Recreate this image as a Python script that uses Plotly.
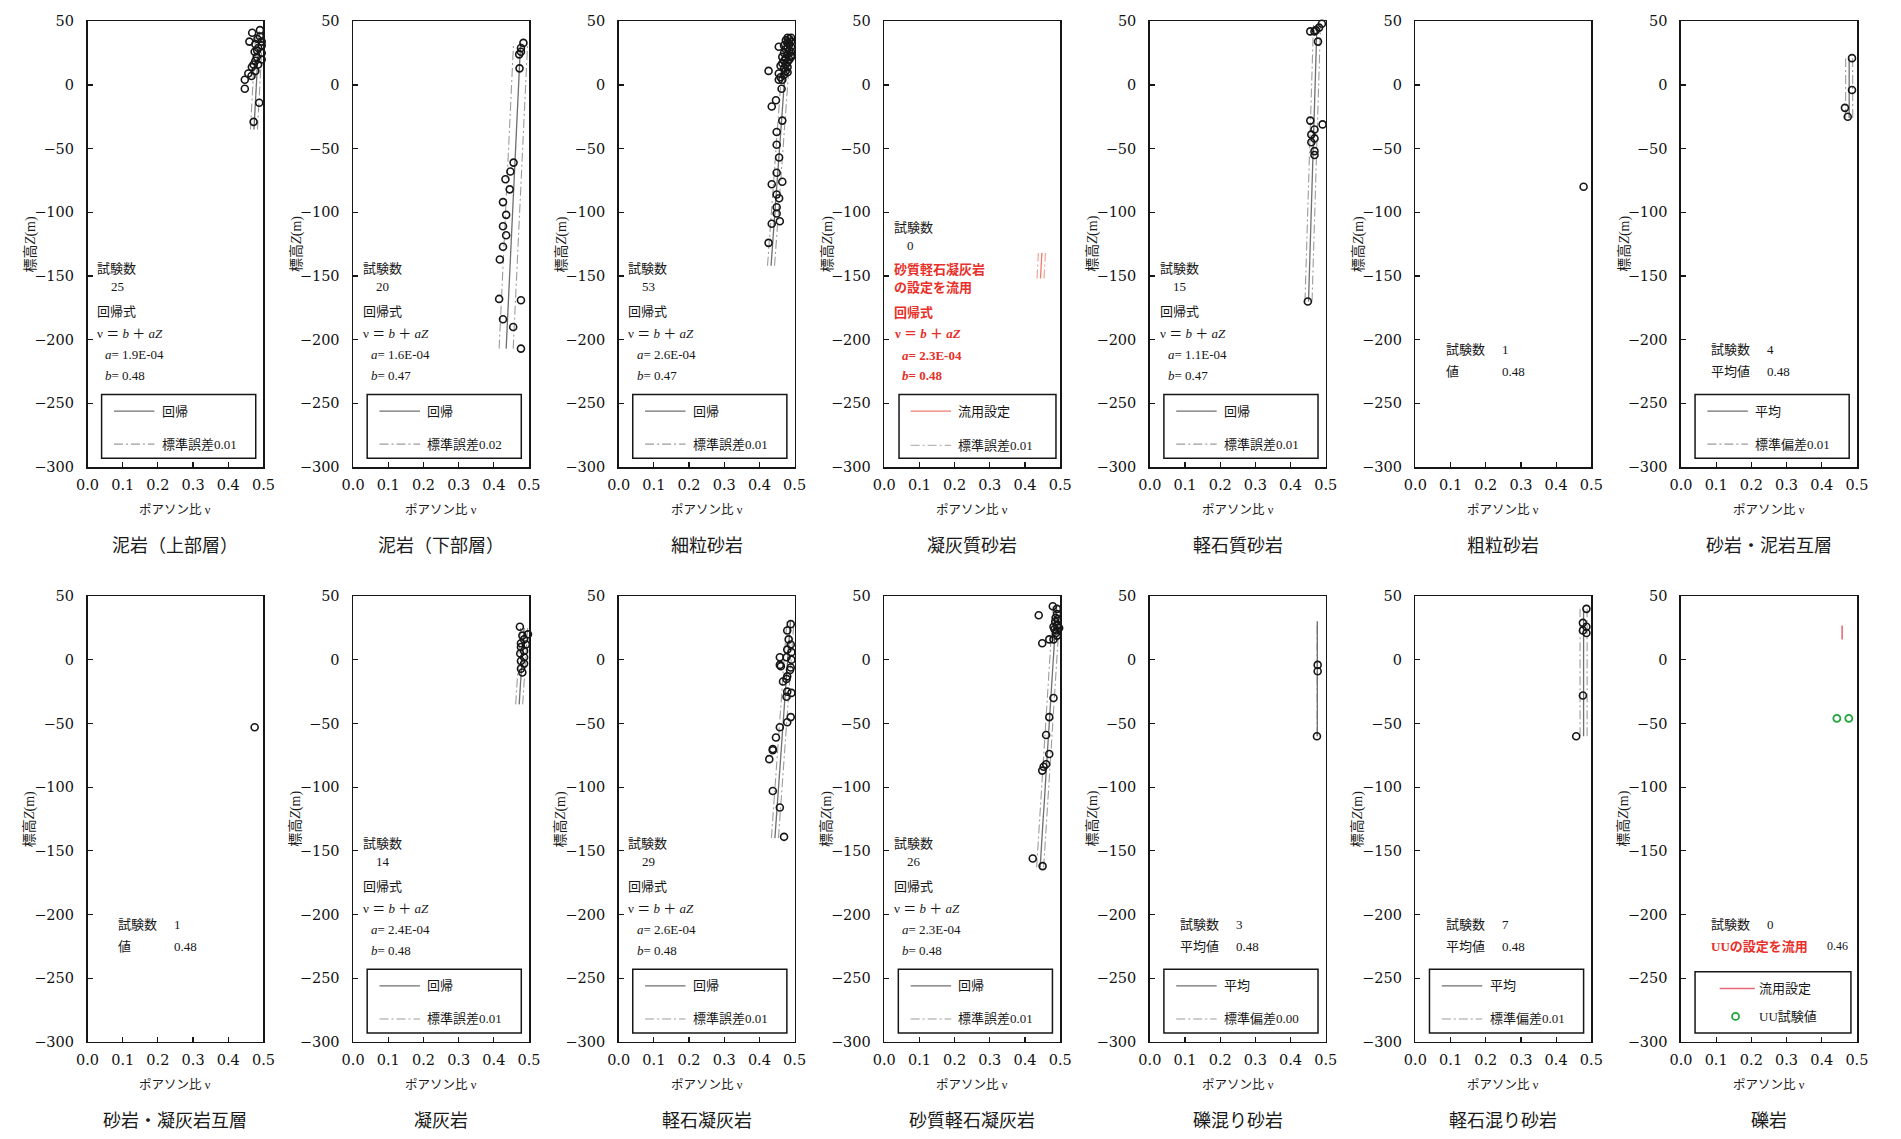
import plotly.graph_objects as go

# ---------------- data ----------------
PANEL_NAMES = ["泥岩（上部層）", "泥岩（下部層）", "細粒砂岩", "凝灰質砂岩", "軽石質砂岩", "粗粒砂岩", "砂岩・泥岩互層",
               "砂岩・凝灰岩互層", "凝灰岩", "軽石凝灰岩", "砂質軽石凝灰岩", "礫混り砂岩", "軽石混り砂岩", "礫岩"]
Z_TICKS = [50, 0, -50, -100, -150, -200, -250, -300]
Z_TICK_LABELS = ["50", "0", "−50", "−100", "−150", "−200", "−250", "−300"]
V_TICKS = [0.0, 0.1, 0.2, 0.3, 0.4, 0.5]
V_TICK_LABELS = ["0.0", "0.1", "0.2", "0.3", "0.4", "0.5"]

TEST_COUNTS = [25, 20, 53, 0, 15, 1, 4, 1, 14, 29, 26, 3, 7, 0]
A_VALUES = ["1.9E-04", "1.6E-04", "2.6E-04", "2.3E-04", "1.1E-04", None, None, None, "2.4E-04", "2.6E-04", "2.3E-04", None, None, None]
B_VALUES = ["0.48", "0.47", "0.47", "0.48", "0.47", None, None, None, "0.48", "0.48", "0.48", None, None, None]
MEAN_LABELS = [None, None, None, None, None, "0.48", "0.48", "0.48", None, None, None, "0.48", "0.48", "0.46"]
SE_LABELS = ["0.01", "0.02", "0.01", "0.01", "0.01", None, "0.01", None, "0.01", "0.01", "0.01", "0.00", "0.01", None]
SE_VALUES = [0.01, 0.02, 0.01, 0.01, 0.01, None, 0.01, None, 0.01, 0.01, 0.01, 0.0, 0.01, None]
KIND = ["reg", "reg", "reg", "borrow_reg", "reg", "single", "mean", "single", "reg", "reg", "reg", "mean", "mean", "borrow_uu"]

P1_V = [0.49, 0.468, 0.483, 0.495, 0.46, 0.477, 0.495, 0.485, 0.475, 0.495, 0.481, 0.495, 0.477, 0.472, 0.485,
        0.467, 0.477, 0.457, 0.466, 0.447, 0.447, 0.488, 0.472, 0.482, 0.49]
P1_Z = [43, 41, 36, 34, 34, 32, 31, 29, 26, 25, 22, 20, 19, 16, 16, 14, 11, 9, 7, 4, -3, -14, -29, 27, 38]
P2_V = [0.484, 0.477, 0.477, 0.472, 0.473, 0.456, 0.447, 0.433, 0.445, 0.426, 0.435, 0.426, 0.435, 0.426, 0.417,
        0.415, 0.477, 0.426, 0.455, 0.477]
P2_Z = [33, 29, 26, 24, 13, -61, -68, -74, -82, -92, -102, -111, -118, -127, -137, -168, -169, -184, -190, -207]
P3_V = [0.426, 0.455, 0.455, 0.455, 0.463, 0.447, 0.435, 0.465, 0.449, 0.449, 0.456, 0.449, 0.465, 0.435, 0.449,
        0.456, 0.449, 0.449, 0.458, 0.435, 0.426,
        0.48, 0.49, 0.485, 0.475, 0.49, 0.48, 0.485, 0.47, 0.49, 0.48, 0.475, 0.485, 0.49, 0.47, 0.48, 0.49,
        0.465, 0.475, 0.485, 0.47, 0.48, 0.465, 0.475, 0.46, 0.48, 0.47, 0.49, 0.475, 0.48, 0.46, 0.465, 0.47]
P3_Z = [11, 30, 9, 4, -3, -12, -17, -28, -37, -47, -57, -69, -76, -78, -86, -89, -96, -101, -107, -109, -124,
        37, 37, 36, 35, 34, 33, 32, 31, 30, 29, 28, 27, 26, 25, 24, 23, 22, 21, 20, 19, 18, 17, 16, 15, 14, 13,
        22, 11, 10, 6, 4, 8]
P4_V = []
P4_Z = []
P5_V = [0.489, 0.481, 0.472, 0.468, 0.456, 0.478, 0.456, 0.491, 0.468, 0.459, 0.468, 0.459, 0.468, 0.468, 0.449]
P5_Z = [48, 45, 43, 42, 42, 34, -28, -31, -35, -39, -42, -45, -52, -55, -170]
P6_V = [0.478]
P6_Z = [-80]
P7_V = [0.486, 0.486, 0.466, 0.474]
P7_Z = [21, -4, -18, -25]
P8_V = [0.475]
P8_Z = [-53]
P9_V = [0.474, 0.497, 0.481, 0.486, 0.477, 0.491, 0.477, 0.486, 0.475, 0.486, 0.477, 0.486, 0.477, 0.481]
P9_Z = [26, 20, 19, 16, 13, 12, 10, 7, 5, 2, -1, -3, -7, -10]
P10_V = [0.489, 0.479, 0.489, 0.479, 0.491, 0.458, 0.477, 0.491, 0.458, 0.461, 0.489, 0.479, 0.477, 0.467, 0.479,
         0.491, 0.477, 0.489, 0.479, 0.458, 0.447, 0.438, 0.438, 0.428, 0.438, 0.458, 0.47, 0.483, 0.487]
P10_Z = [28, 23, 12, 8, 6, 2, 2, 0, -4, -5, -6, -13, -15, -17, -25, -26, -29, -45, -49, -53, -61, -70, -71, -78,
         -103, -116, -139, 16, -8]
P11_V = [0.479, 0.439, 0.491, 0.491, 0.493, 0.486, 0.491, 0.481, 0.497, 0.484, 0.488, 0.491, 0.469, 0.481, 0.449,
         0.481, 0.469, 0.46, 0.469, 0.46, 0.453, 0.449, 0.422, 0.45, 0.487, 0.49]
P11_Z = [42, 35, 40, 36, 32, 30, 27, 26, 25, 24, 21, 19, 16, 16, 13, -30, -45, -59, -74, -82, -84, -87, -156, -162, 33, 23]
P12_V = [0.477, 0.477, 0.475]
P12_Z = [-4, -9, -60]
P13_V = [0.486, 0.476, 0.486, 0.476, 0.486, 0.476, 0.457]
P13_Z = [40, 29, 26, 23, 21, -28, -60]
P14_V = []
P14_Z = []
UU_V = [0.443, 0.477]
UU_Z = [-46, -46]

# fitted / mean lines (end points)
L1_V, L1_Z = [0.473, 0.488], [-35, 42]
L2_V, L2_Z = [0.435, 0.476], [-207, 33]
L3_V, L3_Z = [0.433, 0.480], [-142, 37]
L4_V, L4_Z = [0.444, 0.448], [-152, -132]
L5_V, L5_Z = [0.451, 0.475], [-170, 47]
L6_V, L6_Z = None, None
L7_V, L7_Z = [0.478, 0.478], [-26, 21]
L8_V, L8_Z = None, None
L9_V, L9_Z = [0.472, 0.486], [-35, 25]
L10_V, L10_Z = [0.444, 0.488], [-140, 30]
L11_V, L11_Z = [0.443, 0.490], [-163, 42]
L12_V, L12_Z = [0.476, 0.476], [-60, 30]
L13_V, L13_Z = [0.478, 0.478], [-60, 40]
L14_V, L14_Z = [0.458, 0.458], [16, 27]

PTS_V = [P1_V, P2_V, P3_V, P4_V, P5_V, P6_V, P7_V, P8_V, P9_V, P10_V, P11_V, P12_V, P13_V, P14_V]
PTS_Z = [P1_Z, P2_Z, P3_Z, P4_Z, P5_Z, P6_Z, P7_Z, P8_Z, P9_Z, P10_Z, P11_Z, P12_Z, P13_Z, P14_Z]
LN_V = [L1_V, L2_V, L3_V, L4_V, L5_V, L6_V, L7_V, L8_V, L9_V, L10_V, L11_V, L12_V, L13_V, L14_V]
LN_Z = [L1_Z, L2_Z, L3_Z, L4_Z, L5_Z, L6_Z, L7_Z, L8_Z, L9_Z, L10_Z, L11_Z, L12_Z, L13_Z, L14_Z]

# ---------------- layout constants ----------------
PAGE_W, PAGE_H = 1901, 1139
BODY = 8  # default page margin around the plot div
W, H = PAGE_W - 2 * BODY, PAGE_H - 2 * BODY
COL_X0, COL_STEP, PW = 76.4, 269.0, 178.2
ROW_T = [13.3, 596.5]
ROW_B = [465.6, 1048.7]


def fx(xp):
    return (xp - BODY) / W


def fy(yp):
    return 1 - (yp - BODY) / H


TICK_FONT = dict(family="DejaVu Serif", size=14.5, color="#111111")
TXT_FONT = "Liberation Serif, Noto Sans CJK JP"
CJK_FONT = "Noto Sans CJK JP"
BLACK = "#161616"
RED = "#e8302a"
LINE_SOLID = "#6f6f6f"
LINE_DASH = "#9c9c9c"
DASHDOT = "9px,3px,2px,3px"

fig = go.Figure()
annotations = []
shapes = []
axes = {}


def sfx(i):
    return "" if i == 0 else str(i + 1)


def txt(i, x, z, s, color=BLACK, size=13):
    annotations.append(dict(x=x, y=z, xref="x" + sfx(i), yref="y" + sfx(i), text=s, showarrow=False,
                            xanchor="left", yanchor="middle",
                            font=dict(family=TXT_FONT, size=size, color=color)))


def hline(i, x0, x1, z, color, dash=None, width=1.3):
    shapes.append(dict(type="line", xref="x" + sfx(i), yref="y" + sfx(i), x0=x0, x1=x1, y0=z, y1=z,
                       line=dict(color=color, width=width, dash=dash) if dash else dict(color=color, width=width)))


def legend_box(i, x0=0.04, x1=0.478, z0=-243, z1=-293):
    shapes.append(dict(type="rect", xref="x" + sfx(i), yref="y" + sfx(i), x0=x0, x1=x1, y0=z0, y1=z1,
                       line=dict(color=BLACK, width=1.5), fillcolor="rgba(0,0,0,0)"))


for i in range(14):
    r, c = divmod(i, 7)
    x0 = COL_X0 + c * COL_STEP
    x1 = x0 + PW
    s = sfx(i)
    axes["xaxis" + s] = dict(domain=[fx(x0), fx(x1)], anchor="y" + s, range=[0, 0.5],
                             tickvals=V_TICKS, ticktext=V_TICK_LABELS, ticks="inside", ticklen=5,
                             tickcolor=BLACK, tickwidth=1.2,
                             showline=True, mirror=True, linecolor=BLACK, linewidth=1.6,
                             showgrid=False, zeroline=False, tickfont=TICK_FONT, ticklabelstandoff=4,
                             fixedrange=True)
    axes["yaxis" + s] = dict(domain=[fy(ROW_B[r]), fy(ROW_T[r])], anchor="x" + s, range=[-300, 50],
                             tickvals=Z_TICKS, ticktext=Z_TICK_LABELS, ticks="inside", ticklen=5,
                             tickcolor=BLACK, tickwidth=1.2,
                             showline=True, mirror=True, linecolor=BLACK, linewidth=1.6,
                             showgrid=False, zeroline=False, tickfont=TICK_FONT, ticklabelstandoff=9,
                             fixedrange=True)
    # titles
    annotations.append(dict(x=fx((x0 + x1) / 2), y=fy(ROW_B[r] + 78), xref="paper", yref="paper",
                            text=PANEL_NAMES[i], showarrow=False, xanchor="center", yanchor="middle",
                            font=dict(family=CJK_FONT, size=18, color="#1a1a1a")))
    annotations.append(dict(x=fx((x0 + x1) / 2), y=fy(ROW_B[r] + 44), xref="paper", yref="paper",
                            text="ポアソン比 ν", showarrow=False, xanchor="center", yanchor="middle",
                            font=dict(family=TXT_FONT, size=12.5, color="#1a1a1a")))
    annotations.append(dict(x=fx(x0 - 58), y=fy((ROW_T[r] + ROW_B[r]) / 2), xref="paper", yref="paper",
                            text="標高<i>Z</i>(m)", showarrow=False, xanchor="center", yanchor="middle",
                            textangle=-90, font=dict(family=TXT_FONT, size=14, color="#1a1a1a")))

    kind = KIND[i]
    xa, ya = "x" + s, "y" + s

    # lines
    if LN_V[i] is not None:
        if kind == "borrow_uu":
            fig.add_trace(go.Scatter(x=LN_V[i], y=LN_Z[i], mode="lines", xaxis=xa, yaxis=ya,
                                     line=dict(color="#e66a7a", width=1.6), showlegend=False, hoverinfo="skip"))
        else:
            se = SE_VALUES[i]
            red = kind == "borrow_reg"
            solid_c = "#ee7c70" if red else LINE_SOLID
            dash_c = "#f09a90" if red else LINE_DASH
            for off in (-se, se):
                fig.add_trace(go.Scatter(x=[v + off for v in LN_V[i]], y=LN_Z[i], mode="lines", xaxis=xa, yaxis=ya,
                                         line=dict(color=dash_c, width=1.1, dash=DASHDOT),
                                         showlegend=False, hoverinfo="skip", cliponaxis=False))
            fig.add_trace(go.Scatter(x=LN_V[i], y=LN_Z[i], mode="lines", xaxis=xa, yaxis=ya,
                                     line=dict(color=solid_c, width=1.3), showlegend=False, hoverinfo="skip",
                                     cliponaxis=False))
    # points
    if PTS_V[i]:
        fig.add_trace(go.Scatter(x=PTS_V[i], y=PTS_Z[i], mode="markers", xaxis=xa, yaxis=ya,
                                 marker=dict(symbol="circle-open", size=7, color=BLACK, line=dict(width=1.6)),
                                 showlegend=False, cliponaxis=False))
    if kind == "borrow_uu":
        fig.add_trace(go.Scatter(x=UU_V, y=UU_Z, mode="markers", xaxis=xa, yaxis=ya,
                                 marker=dict(symbol="circle-open", size=7, color="#22a53a", line=dict(width=1.8)),
                                 showlegend=False, cliponaxis=False))

    # texts and legends
    if kind == "reg":
        txt(i, 0.022, -144, "試験数")
        txt(i, 0.06, -158, str(TEST_COUNTS[i]))
        txt(i, 0.022, -178, "回帰式")
        txt(i, 0.022, -195, "ν ＝ <i>b</i> ＋ <i>aZ</i>")
        txt(i, 0.045, -212, "<i>a</i>= " + A_VALUES[i])
        txt(i, 0.045, -228, "<i>b</i>= " + B_VALUES[i])
        legend_box(i)
        hline(i, 0.075, 0.19, -256, LINE_SOLID)
        txt(i, 0.205, -256, "回帰")
        hline(i, 0.075, 0.19, -282, LINE_DASH, DASHDOT, 1.1)
        txt(i, 0.205, -282, "標準誤差" + SE_LABELS[i])
    elif kind == "borrow_reg":
        txt(i, 0.022, -112, "試験数")
        txt(i, 0.06, -126, str(TEST_COUNTS[i]))
        txt(i, 0.022, -145, "<b>砂質軽石凝灰岩</b>", RED)
        txt(i, 0.022, -159, "<b>の設定を流用</b>", RED)
        txt(i, 0.022, -179, "<b>回帰式</b>", RED)
        txt(i, 0.022, -195, "<b>ν ＝ <i>b</i> ＋ <i>aZ</i></b>", RED)
        txt(i, 0.045, -212.5, "<b><i>a</i>= " + A_VALUES[i] + "</b>", RED)
        txt(i, 0.045, -228.5, "<b><i>b</i>= " + B_VALUES[i] + "</b>", RED)
        legend_box(i, 0.042, 0.488)
        hline(i, 0.075, 0.19, -256, "#ee7c70")
        txt(i, 0.205, -256, "流用設定")
        hline(i, 0.075, 0.19, -283, "#b8b8b8", DASHDOT, 1.1)
        txt(i, 0.205, -283, "標準誤差" + SE_LABELS[i])
    elif kind == "single":
        txt(i, 0.08, -208, "試験数")
        txt(i, 0.24, -208, str(TEST_COUNTS[i]))
        txt(i, 0.08, -225, "値")
        txt(i, 0.24, -225, MEAN_LABELS[i])
    elif kind == "mean":
        txt(i, 0.08, -208, "試験数")
        txt(i, 0.24, -208, str(TEST_COUNTS[i]))
        txt(i, 0.08, -225, "平均値")
        txt(i, 0.24, -225, MEAN_LABELS[i])
        legend_box(i)
        hline(i, 0.075, 0.19, -256, LINE_SOLID)
        txt(i, 0.205, -256, "平均")
        hline(i, 0.075, 0.19, -282, LINE_DASH, DASHDOT, 1.1)
        txt(i, 0.205, -282, "標準偏差" + SE_LABELS[i])
    elif kind == "borrow_uu":
        txt(i, 0.08, -208, "試験数")
        txt(i, 0.24, -208, str(TEST_COUNTS[i]))
        txt(i, 0.08, -225, "<b>UUの設定を流用</b>", RED)
        txt(i, 0.41, -225, MEAN_LABELS[i], size=12)
        legend_box(i, 0.04, 0.483, -245, -293)
        hline(i, 0.11, 0.21, -258, "#e66a7a", width=1.5)
        txt(i, 0.215, -258, "流用設定")
        shapes.append(dict(type="circle", xref=xa, yref=ya, xsizemode="pixel", ysizemode="pixel",
                           xanchor=0.155, yanchor=-280, x0=-3.5, x1=3.5, y0=-3.5, y1=3.5,
                           line=dict(color="#22a53a", width=1.8)))
        txt(i, 0.215, -280, "UU試験値")

fig.update_layout(width=W, height=H, margin=dict(l=0, r=0, t=0, b=0), paper_bgcolor="white",
                  plot_bgcolor="white", showlegend=False, annotations=annotations, shapes=shapes, **axes)

fig.write_html("out.html", config={"displayModeBar": False, "staticPlot": True})
